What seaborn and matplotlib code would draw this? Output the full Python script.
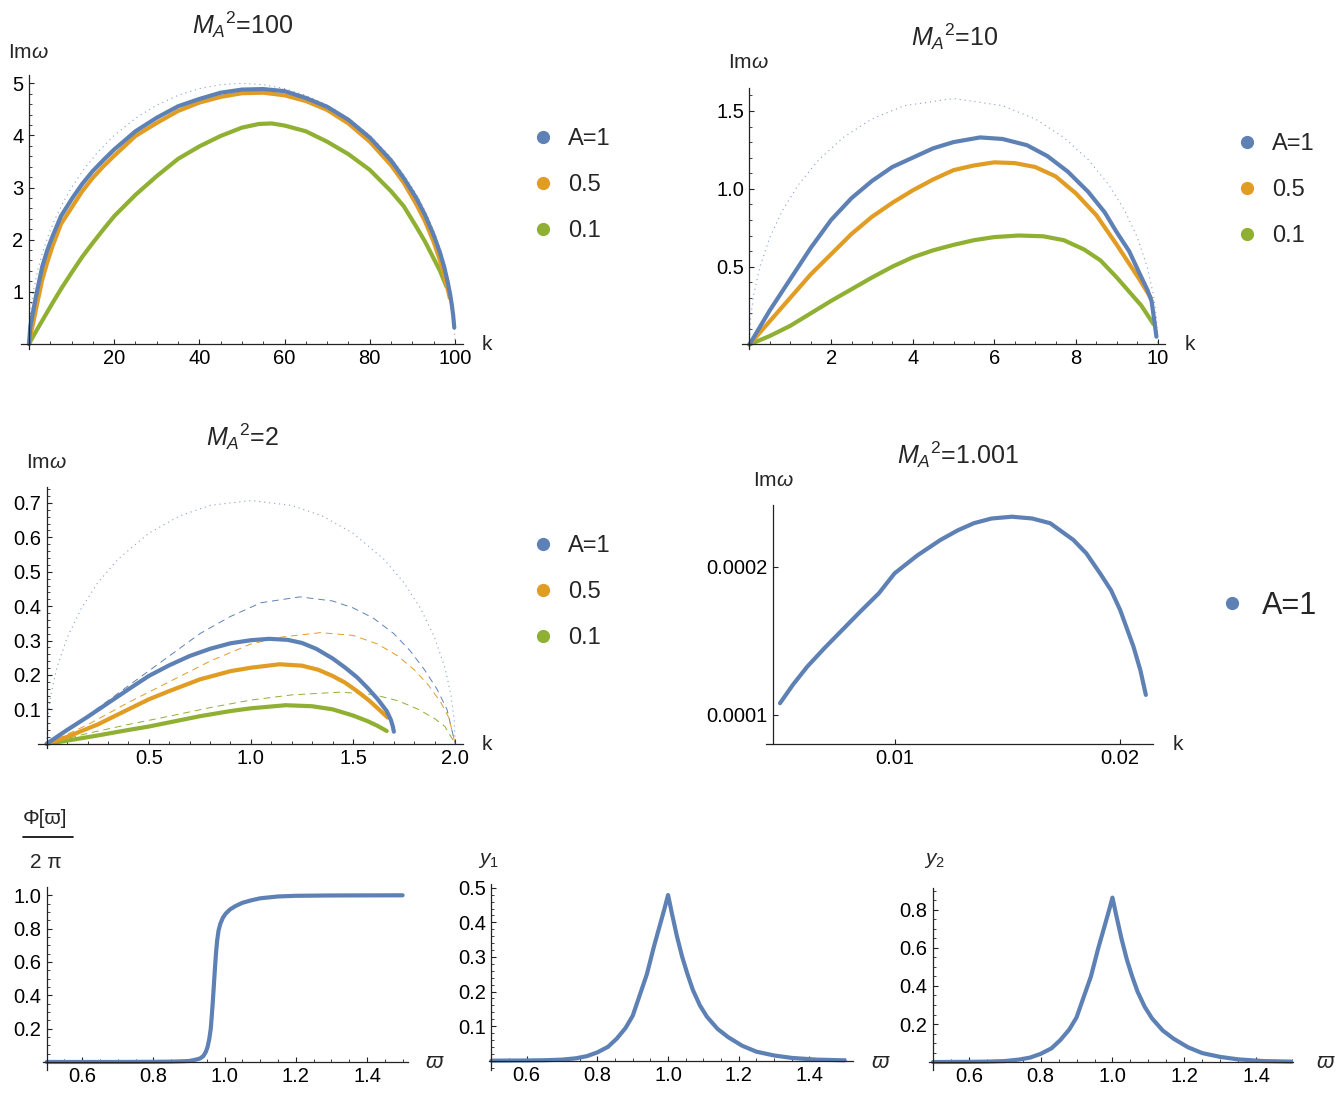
import numpy as np
import matplotlib
matplotlib.use("Agg")
import matplotlib.pyplot as plt
from matplotlib.lines import Line2D
from matplotlib.ticker import MultipleLocator, NullLocator
import seaborn as sns

# ---------------------------------------------------------------
# data
# ---------------------------------------------------------------
blue, orange, green = "#5E81B5", "#E19C24", "#8FB032"

# M_A^2 = 100
k100_a1 = [0, 0.3, 0.8, 1.6, 3.1, 4.3, 5.5, 7.5, 10.2, 12.5, 14.9, 17.5, 20, 25, 30, 35, 40, 45, 50, 55,
           60, 65, 70, 75, 80, 85, 88, 91, 93, 95, 96.5, 97.5, 98.3, 98.9, 99.3, 99.6, 99.85]
w100_a1 = [0, 0.33, 0.55, 0.9, 1.48, 1.8, 2.06, 2.45, 2.80, 3.07, 3.31, 3.53, 3.73, 4.08, 4.34, 4.56, 4.70, 4.82, 4.88, 4.89,
           4.85, 4.72, 4.55, 4.30, 3.96, 3.52, 3.18, 2.79, 2.47, 2.09, 1.75, 1.47, 1.19, 0.94, 0.73, 0.54, 0.31]
k100_a05 = [0, 0.4, 0.8, 1.6, 3.1, 4.3, 5.5, 7.5, 10.2, 12.5, 14.9, 17.5, 20, 25, 30, 35, 40, 45, 50, 55,
            60, 65, 70, 75, 80, 85, 88, 91, 93, 95, 96.5, 97.5, 98.3, 98.8]
w100_a05 = [0, 0.2, 0.33, 0.65, 1.23, 1.57, 1.87, 2.3, 2.64, 2.93, 3.18, 3.41, 3.61, 3.99, 4.24, 4.47, 4.63, 4.74, 4.81, 4.82,
            4.77, 4.66, 4.49, 4.23, 3.88, 3.43, 3.09, 2.67, 2.35, 1.96, 1.60, 1.31, 1.05, 0.88]
k100_a01 = [0, 2, 3.5, 5.5, 7.8, 10.2, 12.5, 14.9, 17.5, 20, 25, 30, 35, 40, 45, 50, 54, 57, 60, 65,
            70, 75, 80, 85, 88, 91, 93, 95, 96.5, 98]
w100_a01 = [0, 0.29, 0.5, 0.78, 1.09, 1.39, 1.67, 1.93, 2.2, 2.45, 2.86, 3.22, 3.55, 3.79, 3.99, 4.15, 4.22, 4.23, 4.19, 4.08,
            3.88, 3.64, 3.34, 2.93, 2.64, 2.24, 1.96, 1.64, 1.40, 1.1]
k100_ref = [0, 0.1, 0.25, 0.5, 1, 2, 3, 4.5, 6, 8, 10, 13, 16, 20, 25, 30, 35, 40, 45, 50,
            55, 60, 65, 70, 75, 80, 84, 87, 90, 92, 94, 95.5, 97, 98, 99, 99.5, 99.75, 99.9, 100]
w100_ref = [0, 0.316, 0.499, 0.705, 0.995, 1.4, 1.706, 2.073, 2.375, 2.713, 3.0, 3.363, 3.666, 4.0, 4.33, 4.583, 4.77, 4.899, 4.975, 5.0,
            4.975, 4.899, 4.77, 4.583, 4.33, 4.0, 3.666, 3.363, 3.0, 2.713, 2.375, 2.073, 1.706, 1.4, 0.995, 0.705, 0.499, 0.316, 0]

# M_A^2 = 10
k10_a1 = [0, 0.25, 0.5, 0.75, 1, 1.5, 2, 2.5, 3, 3.5, 4, 4.5, 5, 5.65, 6.2, 6.8, 7.3, 7.8, 8.3, 8.7,
          9.0, 9.3, 9.55, 9.75, 9.85, 9.92, 9.97]
w10_a1 = [0, 0.11, 0.22, 0.32, 0.42, 0.62, 0.80, 0.94, 1.05, 1.14, 1.20, 1.26, 1.30, 1.33, 1.32, 1.28, 1.21, 1.11, 0.98, 0.85,
          0.72, 0.60, 0.46, 0.35, 0.28, 0.15, 0.05]
k10_a05 = [0, 0.5, 1, 1.5, 2, 2.5, 3, 3.5, 4, 4.5, 5, 5.5, 6, 6.5, 7, 7.5, 8, 8.5, 9, 9.3, 9.55, 9.83]
w10_a05 = [0, 0.15, 0.30, 0.45, 0.58, 0.71, 0.82, 0.91, 0.99, 1.06, 1.12, 1.15, 1.17, 1.165, 1.14, 1.08, 0.97, 0.83, 0.64, 0.52, 0.42, 0.30]
k10_a01 = [0, 0.5, 1, 1.5, 2, 2.5, 3, 3.5, 4, 4.5, 5, 5.5, 6, 6.6, 7.2, 7.7, 8.2, 8.6, 9, 9.3, 9.6, 9.9]
w10_a01 = [0, 0.055, 0.12, 0.20, 0.28, 0.355, 0.43, 0.50, 0.56, 0.605, 0.64, 0.67, 0.69, 0.70, 0.695, 0.67, 0.61, 0.54, 0.43, 0.34, 0.25, 0.13]
k10_ref = [0, 0.03, 0.1, 0.25, 0.5, 0.8, 1.2, 1.7, 2.3, 3, 3.8, 5, 6.2, 7, 7.7, 8.3, 8.8, 9.2, 9.5, 9.75, 9.9, 9.97, 10]
w10_ref = [0, 0.173, 0.314, 0.493, 0.689, 0.857, 1.027, 1.187, 1.33, 1.449, 1.534, 1.58, 1.534, 1.449, 1.33, 1.187, 1.027, 0.857,
           0.689, 0.493, 0.314, 0.173, 0]

# M_A^2 = 2
k2_a1 = [0, 0.1, 0.2, 0.3, 0.4, 0.5, 0.6, 0.7, 0.8, 0.9, 1.0, 1.09, 1.18, 1.25, 1.32, 1.4, 1.46, 1.52, 1.57, 1.62,
         1.665, 1.685, 1.695, 1.70]
w2_a1 = [0, 0.04, 0.078, 0.118, 0.158, 0.197, 0.228, 0.255, 0.276, 0.292, 0.301, 0.305, 0.302, 0.293, 0.276, 0.248, 0.222, 0.193,
         0.163, 0.13, 0.095, 0.07, 0.05, 0.035]
k2_a05 = [0, 0.1, 0.25, 0.4, 0.5, 0.6, 0.75, 0.9, 1.0, 1.14, 1.25, 1.33, 1.4, 1.46, 1.52, 1.58, 1.63, 1.67]
w2_a05 = [0, 0.02, 0.056, 0.1, 0.129, 0.153, 0.187, 0.211, 0.221, 0.231, 0.227, 0.215, 0.197, 0.178, 0.153, 0.125, 0.098, 0.076]
k2_a01 = [0, 0.1, 0.25, 0.4, 0.5, 0.6, 0.75, 0.9, 1.0, 1.17, 1.3, 1.4, 1.5, 1.57, 1.62, 1.665]
w2_a01 = [0, 0.009, 0.024, 0.04, 0.05, 0.062, 0.08, 0.095, 0.103, 0.112, 0.109, 0.10, 0.082, 0.066, 0.052, 0.037]
k2_ref = [0, 0.005, 0.02, 0.05, 0.1, 0.17, 0.25, 0.35, 0.5, 0.65, 0.8, 1.0, 1.2, 1.35, 1.5, 1.65, 1.75, 1.83, 1.9, 1.95,
          1.98, 1.995, 2.0]
w2_ref = [0, 0.071, 0.141, 0.221, 0.308, 0.394, 0.468, 0.537, 0.612, 0.662, 0.693, 0.707, 0.693, 0.662, 0.612, 0.537, 0.468, 0.394,
          0.308, 0.221, 0.141, 0.071, 0]
k2_d1 = [0, 0.15, 0.3, 0.45, 0.6, 0.75, 0.9, 1.05, 1.24, 1.4, 1.5, 1.6, 1.7, 1.78, 1.85, 1.91, 1.96, 2.0]
w2_d1 = [0, 0.06, 0.125, 0.19, 0.255, 0.32, 0.37, 0.41, 0.427, 0.415, 0.395, 0.365, 0.32, 0.27, 0.215, 0.16, 0.1, 0]
k2_d05 = [0, 0.2, 0.4, 0.6, 0.8, 1.0, 1.15, 1.34, 1.5, 1.62, 1.72, 1.8, 1.87, 1.93, 1.97, 2.0]
w2_d05 = [0, 0.055, 0.12, 0.18, 0.24, 0.29, 0.31, 0.323, 0.315, 0.29, 0.255, 0.215, 0.17, 0.12, 0.075, 0]
k2_d01 = [0, 0.2, 0.4, 0.6, 0.8, 1.0, 1.2, 1.44, 1.6, 1.72, 1.82, 1.9, 1.95, 2.0]
w2_d01 = [0, 0.03, 0.056, 0.08, 0.105, 0.127, 0.142, 0.15, 0.143, 0.125, 0.1, 0.073, 0.05, 0]

# M_A^2 = 1.001
k1001 = [0.00492, 0.0055, 0.00613, 0.0069, 0.00761, 0.0085, 0.0093, 0.0100, 0.0110, 0.01203, 0.0128, 0.01351,
         0.0143, 0.0152, 0.0161, 0.0169, 0.01793, 0.0185, 0.01911, 0.0196, 0.0200, 0.02059, 0.0209, 0.02114]
w1001 = [1.079e-4, 1.205e-4, 1.326e-4, 1.452e-4, 1.562e-4, 1.70e-4, 1.82e-4, 1.955e-4, 2.075e-4, 2.180e-4, 2.245e-4, 2.293e-4,
         2.325e-4, 2.337e-4, 2.325e-4, 2.293e-4, 2.180e-4, 2.09e-4, 1.955e-4, 1.84e-4, 1.708e-4, 1.461e-4, 1.30e-4, 1.135e-4]

# bottom row
om_phi = [0.5, 0.7, 0.8, 0.85, 0.88, 0.9, 0.915, 0.93, 0.94, 0.947, 0.952, 0.957, 0.961, 0.964, 0.967, 0.97,
          0.973, 0.976, 0.979, 0.983, 0.988, 0.995, 1.003, 1.015, 1.03, 1.05, 1.075, 1.1, 1.15, 1.2, 1.3, 1.5]
phi = [0, 0, 0.001, 0.002, 0.004, 0.006, 0.012, 0.02, 0.035, 0.06, 0.09, 0.14, 0.2, 0.28, 0.37, 0.47,
       0.57, 0.66, 0.73, 0.79, 0.83, 0.865, 0.89, 0.915, 0.935, 0.955, 0.97, 0.982, 0.993, 0.997, 0.999, 1.0]
om_y = [0.5, 0.6, 0.65, 0.7, 0.74, 0.77, 0.8, 0.83, 0.855, 0.88, 0.9, 0.92, 0.94, 0.96, 0.975, 0.99, 1.0,
        1.01, 1.025, 1.04, 1.055, 1.07, 1.09, 1.11, 1.14, 1.17, 1.21, 1.25, 1.3, 1.35, 1.42, 1.5]
y1 = [0, 0.0005, 0.0012, 0.003, 0.007, 0.013, 0.024, 0.040, 0.064, 0.095, 0.13, 0.19, 0.25, 0.33, 0.385, 0.44, 0.479,
      0.43, 0.36, 0.30, 0.25, 0.205, 0.16, 0.127, 0.092, 0.068, 0.043, 0.026, 0.015, 0.008, 0.003, 0.001]
y2 = [0, 0.001, 0.002, 0.005, 0.013, 0.023, 0.043, 0.072, 0.116, 0.172, 0.235, 0.343, 0.45, 0.596, 0.695, 0.795, 0.865,
      0.777, 0.65, 0.54, 0.45, 0.37, 0.29, 0.23, 0.166, 0.123, 0.078, 0.047, 0.027, 0.014, 0.005, 0.002]

legend_labels = ["A=1", "0.5", "0.1"]

# ---------------------------------------------------------------
# style
# ---------------------------------------------------------------
sns.set_style("ticks")
plt.rcParams['font.family'] = ['Liberation Sans', 'DejaVu Sans']
plt.rcParams['mathtext.fontset'] = 'custom'
plt.rcParams['mathtext.rm'] = 'Liberation Sans'
plt.rcParams['mathtext.it'] = 'Liberation Sans:italic'
plt.rcParams['mathtext.bf'] = 'Liberation Sans:bold'
plt.rcParams['lines.solid_joinstyle'] = 'round'

W, H = 1343, 1096
fig = plt.figure(figsize=(W / 100, H / 100), dpi=100)


def fx(px):
    return px / W


def fy(py):
    return 1 - py / H


def make_ax(L, R, T, B, xlim, ylim, x0, y0, xmaj, ymaj, xmin=None, ymin=None, fs=14.5):
    ax = fig.add_axes([fx(L), fy(B), (R - L) / W, (B - T) / H])
    ax.set_xlim(*xlim)
    ax.set_ylim(*ylim)
    for s in ['top', 'right']:
        ax.spines[s].set_visible(False)
    ax.spines['left'].set_position(('data', x0))
    ax.spines['bottom'].set_position(('data', y0))
    for s in ['left', 'bottom']:
        ax.spines[s].set_color('#222222')
        ax.spines[s].set_linewidth(0.9)
    ax.set_xticks([t for t, _ in xmaj], [l for _, l in xmaj])
    ax.set_yticks([t for t, _ in ymaj], [l for _, l in ymaj])
    ax.xaxis.set_minor_locator(MultipleLocator(xmin) if xmin else NullLocator())
    ax.yaxis.set_minor_locator(MultipleLocator(ymin) if ymin else NullLocator())
    ax.tick_params(which='major', direction='in', length=3.6, width=0.8, colors='#222222',
                   labelsize=fs, labelcolor='black')
    ax.tick_params(which='minor', direction='in', length=1.9, width=0.6, colors='#222222')
    ax.tick_params(axis='x', pad=3.5)
    ax.tick_params(axis='y', pad=4)
    return ax


def curve(ax, x, y, color, lw=3.0, ls='-', alpha=1.0):
    sns.lineplot(x=x, y=y, ax=ax, color=color, linewidth=lw, linestyle=ls, alpha=alpha,
                 estimator=None, sort=False, legend=False)
    ax.set_xlabel("")
    ax.set_ylabel("")


def legend(x, y, n, fs=17, pad=0.56, spacing=1.02):
    cols = [blue, orange, green][:n]
    handles = [Line2D([], [], marker='o', ls='', color=c, markersize=8.5) for c in cols]
    fig.legend(handles, legend_labels[:n], loc='center left',
               bbox_to_anchor=(fx(x), fy(y)), frameon=False, fontsize=fs,
               handlelength=1.0, handletextpad=pad, labelspacing=spacing,
               borderpad=0, borderaxespad=0)


def label(x, y, s, fs=15, **kw):
    fig.text(fx(x), fy(y), s, fontsize=fs, va='center', **kw)


dotted = (0, (1, 3.5))
dashed = (0, (7, 5))

# ---------------------------------------------------------------
# panel 1 : M_A^2 = 100
# ---------------------------------------------------------------
ax1 = make_ax(20.5, 463, 75, 348.5, (-2, 101.9), (-0.09, 5.16), 0, 0,
              [(v, str(v)) for v in [20, 40, 60, 80, 100]],
              [(v, str(v)) for v in [1, 2, 3, 4, 5]], 5, 0.2)
curve(ax1, k100_ref, w100_ref, blue, lw=0.8, ls=dotted, alpha=0.75)
curve(ax1, k100_a01, w100_a01, green)
curve(ax1, k100_a05, w100_a05, orange)
curve(ax1, k100_a1, w100_a1, blue)
label(243, 25, r'${M_A}^{2}$=100', fs=18, ha='center')
label(8, 52, r'Im$\omega$', ha='left')
label(487, 345, 'k', ha='center')
legend(531.5, 185, 3)

# ---------------------------------------------------------------
# panel 2 : M_A^2 = 10
# ---------------------------------------------------------------
ax2 = make_ax(741.7, 1165, 87.6, 348.7, (-0.19, 10.18), (-0.027, 1.65), 0, 0,
              [(v, str(v)) for v in [2, 4, 6, 8, 10]],
              [(0.5, '0.5'), (1.0, '1.0'), (1.5, '1.5')], 0.5, 0.1)
curve(ax2, k10_ref, w10_ref, blue, lw=0.8, ls=dotted, alpha=0.75)
curve(ax2, k10_a01, w10_a01, green)
curve(ax2, k10_a05, w10_a05, orange)
curve(ax2, k10_a1, w10_a1, blue)
label(955, 37, r'${M_A}^{2}$=10', fs=18, ha='center')
label(728, 62, r'Im$\omega$', ha='left')
label(1190, 344, 'k', ha='center')
legend(1235.2, 190, 3)

# ---------------------------------------------------------------
# panel 3 : M_A^2 = 2
# ---------------------------------------------------------------
ax3 = make_ax(38.3, 463.3, 486.8, 748.2, (-0.041, 2.04), (-0.013, 0.747), 0, 0,
              [(0.5, '0.5'), (1.0, '1.0'), (1.5, '1.5'), (2.0, '2.0')],
              [(v / 10, f'{v / 10:.1f}') for v in range(1, 8)], 0.1, 0.02)
curve(ax3, k2_ref, w2_ref, blue, lw=0.8, ls=dotted, alpha=0.75)
curve(ax3, k2_d1, w2_d1, blue, lw=0.7, ls=dashed)
curve(ax3, k2_d05, w2_d05, orange, lw=0.7, ls=dashed)
curve(ax3, k2_d01, w2_d01, green, lw=0.7, ls=dashed)
curve(ax3, k2_a01, w2_a01, green)
curve(ax3, k2_a05, w2_a05, orange)
curve(ax3, k2_a1, w2_a1, blue)
label(243, 437, r'${M_A}^{2}$=2', fs=18, ha='center')
label(26, 462, r'Im$\omega$', ha='left')
label(487, 745, 'k', ha='center')
legend(531.5, 592, 3)

# ---------------------------------------------------------------
# panel 4 : M_A^2 = 1.001
# ---------------------------------------------------------------
ax4 = make_ax(766, 1153.3, 505, 744, (0.0043, 0.02147), (0.0000804, 0.0002416), 0.00463, 0.0000804,
              [(0.01, '0.01'), (0.02, '0.02')],
              [(0.0001, '0.0001'), (0.0002, '0.0002')], None, None, fs=14.5)
curve(ax4, k1001, w1001, blue)
label(958, 455, r'${M_A}^{2}$=1.001', fs=18, ha='center')
label(752.7, 480, r'Im$\omega$', ha='left')
label(1178, 745, 'k', ha='center')
legend(1217, 605.7, 1, fs=22, pad=0.46)

# ---------------------------------------------------------------
# bottom row : phase and y1, y2
# ---------------------------------------------------------------
om_ticks = [(0.6, '0.6'), (0.8, '0.8'), (1.0, '1.0'), (1.2, '1.2'), (1.4, '1.4')]

ax5 = make_ax(43.3, 408.3, 887.3, 1069.8, (0.4905, 1.516), (-0.047, 1.048), 0.5, 0,
              om_ticks, [(v / 10, f'{v / 10:.1f}') for v in [2, 4, 6, 8, 10]], 0.05, 0.05)
curve(ax5, om_phi, phi, blue)
label(45.5, 818, r'Φ[ϖ]', fs=15, ha='center')
fig.add_artist(Line2D([fx(23), fx(72.5)], [fy(836.7), fy(836.7)], color='black', lw=1.2))
label(45.5, 862, '2 π', fs=15, ha='center')
label(434, 1063, 'ϖ', fs=16, ha='center', style='italic')

ax6 = make_ax(489.3, 852.7, 884.3, 1070, (0.494, 1.5226), (-0.027, 0.51), 0.5, 0,
              om_ticks, [(v / 10, f'{v / 10:.1f}') for v in [1, 2, 3, 4, 5]], 0.05, 0.02)
curve(ax6, om_y, y1, blue)
label(489, 860, r'$y_1$', fs=15, ha='center')
label(880, 1063, 'ϖ', fs=16, ha='center', style='italic')

ax7 = make_ax(929.3, 1293, 888.3, 1070, (0.4897, 1.503), (-0.042, 0.914), 0.5, 0,
              om_ticks, [(v / 10, f'{v / 10:.1f}') for v in [2, 4, 6, 8]], 0.05, 0.05)
curve(ax7, om_y, y2, blue)
label(934, 860, r'$y_2$', fs=15, ha='center')
label(1325, 1063, 'ϖ', fs=16, ha='center', style='italic')

plt.savefig("out.png", dpi=100)
